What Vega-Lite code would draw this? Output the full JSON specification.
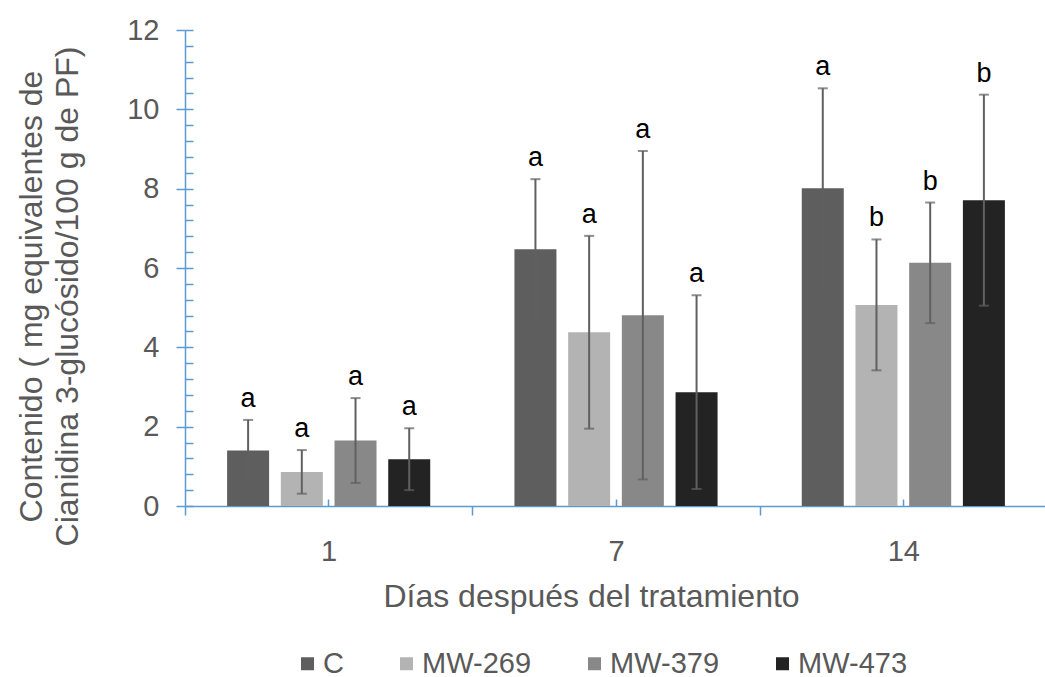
{
  "$schema": "https://vega.github.io/schema/vega-lite/v6.json",
  "width": 862,
  "height": 476,
  "autosize": {"type": "none"},
  "padding": {"left": 185, "top": 30, "right": 0, "bottom": 171},
  "background": "white",
  "config": {
    "view": {"stroke": null},
    "font": "Liberation Sans",
    "axis": {"labelFont": "Liberation Sans", "titleFont": "Liberation Sans", "grid": false},
    "legend": {"labelFont": "Liberation Sans"}
  },
  "data": {
    "values": [
      {"dia": "1", "trat": "C", "media": 1.40, "lo": 0.63, "hi": 2.17, "letra": "a"},
      {"dia": "1", "trat": "MW-269", "media": 0.86, "lo": 0.31, "hi": 1.41, "letra": "a"},
      {"dia": "1", "trat": "MW-379", "media": 1.65, "lo": 0.58, "hi": 2.72, "letra": "a"},
      {"dia": "1", "trat": "MW-473", "media": 1.18, "lo": 0.40, "hi": 1.96, "letra": "a"},
      {"dia": "7", "trat": "C", "media": 6.47, "lo": 4.70, "hi": 8.24, "letra": "a"},
      {"dia": "7", "trat": "MW-269", "media": 4.38, "lo": 1.95, "hi": 6.81, "letra": "a"},
      {"dia": "7", "trat": "MW-379", "media": 4.81, "lo": 0.67, "hi": 8.95, "letra": "a"},
      {"dia": "7", "trat": "MW-473", "media": 2.87, "lo": 0.43, "hi": 5.31, "letra": "a"},
      {"dia": "14", "trat": "C", "media": 8.01, "lo": 5.49, "hi": 10.53, "letra": "a"},
      {"dia": "14", "trat": "MW-269", "media": 5.07, "lo": 3.42, "hi": 6.72, "letra": "b"},
      {"dia": "14", "trat": "MW-379", "media": 6.13, "lo": 4.61, "hi": 7.65, "letra": "b"},
      {"dia": "14", "trat": "MW-473", "media": 7.71, "lo": 5.05, "hi": 10.37, "letra": "b"}
    ]
  },
  "layer": [
    {
      "mark": {"type": "bar"},
      "encoding": {
        "x": {
          "field": "dia", "type": "nominal", "sort": ["1", "7", "14"],
          "scale": {"paddingInner": 0, "paddingOuter": 0},
          "axis": {
            "orient": "bottom",
            "title": "Días después del tratamiento",
            "titleFontSize": 32, "titleFontWeight": "normal", "titleColor": "#595959",
            "titleX": 406, "titleY": 100, "titleBaseline": "alphabetic", "titleAlign": "center",
            "labelFontSize": 29, "labelColor": "#595959", "labelAngle": 0, "labelPadding": 22,
            "tickBand": "extent", "tickSize": 9, "tickColor": "#5b9bd5", "tickWidth": 1.5,
            "domainColor": "#5b9bd5", "domainWidth": 1.5
          }
        },
        "xOffset": {
          "field": "trat", "type": "nominal", "sort": ["C", "MW-269", "MW-379", "MW-473"],
          "scale": {"paddingInner": 0.218, "paddingOuter": 0.784}
        },
        "y": {
          "field": "media", "type": "quantitative",
          "scale": {"domain": [0, 12], "nice": false},
          "axis": {
            "orient": "left",
            "values": [0, 2, 4, 6, 8, 10, 12],
            "tickSize": 9, "tickColor": "#5b9bd5", "tickWidth": 1.5,
            "domainColor": "#5b9bd5", "domainWidth": 1.5,
            "labelFontSize": 29, "labelColor": "#595959", "labelPadding": 17,
            "title": ["Contenido ( mg equivalentes de", "Cianidina 3-glucósido/100 g de PF)"],
            "titleFontSize": 32, "titleFontWeight": "normal", "titleColor": "#595959",
            "titleX": -153.5, "titleY": 266, "titleAngle": -90,
            "titleAlign": "center", "titleBaseline": "middle", "titleLineHeight": 36
          }
        },
        "color": {
          "field": "trat", "type": "nominal",
          "scale": {
            "domain": ["C", "MW-269", "MW-379", "MW-473"],
            "range": ["#5e5e5e", "#b3b3b3", "#888888", "#232323"]
          },
          "legend": {
            "orient": "none", "legendX": 108, "legendY": 619,
            "direction": "horizontal", "title": null,
            "symbolType": "square", "symbolSize": 169, "symbolStrokeWidth": 0,
            "labelFontSize": 29, "labelColor": "#595959", "labelOffset": 1,
            "columnPadding": 48, "padding": 0
          }
        }
      }
    },
    {
      "mark": {"type": "rule", "color": "#606060", "strokeWidth": 2},
      "encoding": {
        "x": {
          "field": "dia", "type": "nominal", "sort": ["1", "7", "14"],
          "axis": {
            "orient": "bottom", "tickBand": "center", "tickSize": -7,
            "tickColor": "#5b9bd5", "tickWidth": 1.5,
            "labels": false, "domain": false, "title": null
          }
        },
        "xOffset": {"field": "trat", "type": "nominal", "sort": ["C", "MW-269", "MW-379", "MW-473"]},
        "y": {
          "field": "lo", "type": "quantitative",
          "scale": {"domain": [0, 12], "nice": false},
          "axis": {
            "orient": "left",
            "values": [0, 0.4, 0.8, 1.2, 1.6, 2, 2.4, 2.8, 3.2, 3.6, 4, 4.4, 4.8, 5.2, 5.6, 6, 6.4, 6.8, 7.2, 7.6, 8, 8.4, 8.8, 9.2, 9.6, 10, 10.4, 10.8, 11.2, 11.6, 12],
            "tickSize": -8, "tickColor": "#5b9bd5", "tickWidth": 1.5,
            "labels": false, "domain": false, "title": null
          }
        },
        "y2": {"field": "hi"}
      }
    },
    {
      "mark": {"type": "tick", "color": "#606060", "size": 10, "thickness": 2, "orient": "horizontal"},
      "encoding": {
        "x": {"field": "dia", "type": "nominal", "sort": ["1", "7", "14"], "axis": null},
        "xOffset": {"field": "trat", "type": "nominal", "sort": ["C", "MW-269", "MW-379", "MW-473"]},
        "y": {"field": "hi", "type": "quantitative", "scale": {"domain": [0, 12], "nice": false}, "axis": null}
      }
    },
    {
      "mark": {"type": "tick", "color": "#606060", "size": 10, "thickness": 2, "orient": "horizontal"},
      "encoding": {
        "x": {"field": "dia", "type": "nominal", "sort": ["1", "7", "14"], "axis": null},
        "xOffset": {"field": "trat", "type": "nominal", "sort": ["C", "MW-269", "MW-379", "MW-473"]},
        "y": {"field": "lo", "type": "quantitative", "scale": {"domain": [0, 12], "nice": false}, "axis": null}
      }
    },
    {
      "mark": {"type": "text", "fontSize": 27, "color": "#000000", "baseline": "alphabetic", "dy": -13, "font": "Liberation Sans"},
      "encoding": {
        "x": {"field": "dia", "type": "nominal", "sort": ["1", "7", "14"], "axis": null},
        "xOffset": {"field": "trat", "type": "nominal", "sort": ["C", "MW-269", "MW-379", "MW-473"]},
        "y": {"field": "hi", "type": "quantitative", "scale": {"domain": [0, 12], "nice": false}, "axis": null},
        "text": {"field": "letra"}
      }
    }
  ],
  "resolve": {"axis": {"x": "independent", "y": "independent"}}
}
